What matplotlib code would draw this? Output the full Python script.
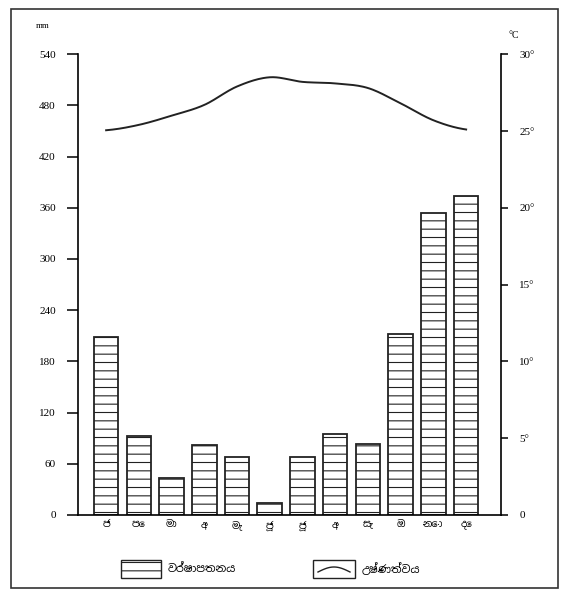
import numpy as np
import matplotlib
matplotlib.use("Agg")
import matplotlib.pyplot as plt
from matplotlib.patches import Rectangle

plt.rcParams['hatch.linewidth'] = 0.8

months = ["ජ", "පෙ", "මා", "අ", "මැ", "ජූ", "ජූ", "අ", "සැ", "ඔ", "නො", "දෙ"]
rainfall = [208, 93, 43, 82, 68, 14, 68, 95, 83, 212, 354, 374]
temperature = [25.05, 25.4, 26.0, 26.7, 27.9, 28.5, 28.2, 28.1, 27.8, 26.8, 25.7, 25.1]
rain_ticks = [0, 60, 120, 180, 240, 300, 360, 420, 480, 540]
temp_ticks = [0, 5, 10, 15, 20, 25, 30]
temp_labels = ["0", "5°", "10°", "15°", "20°", "25°", "30°"]
legend_labels = ["වර්ෂාපතනය", "උෂ්ණත්වය"]

sinhala_fonts = ['Noto Sans Sinhala', 'Noto Serif Sinhala', 'Iskoola Pota', 'Liberation Serif', 'DejaVu Sans']
num_font = ['Liberation Serif', 'DejaVu Serif']

fig = plt.figure(figsize=(5.65, 5.96), dpi=100)
fig.patches.append(Rectangle((0.02, 0.013), 0.968, 0.972, transform=fig.transFigure,
                             fill=False, edgecolor='#333333', linewidth=1.2))

ax = fig.add_axes([0.138, 0.136, 0.749, 0.773])
x = np.arange(len(months))
ax.bar(x, rainfall, width=0.75, facecolor='white', edgecolor='#222222',
       linewidth=1.3, hatch='--')
ax.set_ylim(0, 540)
ax.set_yticks(rain_ticks)
ax.set_yticklabels([str(t) for t in rain_ticks], fontfamily=num_font, fontsize=8)
ax.set_xticks(x)
ax.set_xticklabels(months, fontfamily=sinhala_fonts, fontsize=7)
ax.tick_params(axis='x', length=0, pad=4)
ax.tick_params(axis='y', length=8, width=1.1, pad=8)
for s in ['top', 'right']:
    ax.spines[s].set_visible(False)
ax.spines['left'].set_linewidth(1.2)
ax.spines['bottom'].set_linewidth(1.2)

ax2 = ax.twinx()
ax2.set_ylim(0, 30)
# smooth curve through monthly temperature (Catmull-Rom)
t = np.array(temperature)
xs, ys = [], []
P = np.concatenate([[t[0]], t, [t[-1]]])
X = np.concatenate([[x[0] - 1], x, [x[-1] + 1]]).astype(float)
for i in range(1, len(P) - 2):
    u = np.linspace(0, 1, 20, endpoint=False)
    for arr, out in ((P, ys), (X, xs)):
        p0, p1, p2, p3 = arr[i - 1], arr[i], arr[i + 1], arr[i + 2]
        out.extend(0.5 * ((2 * p1) + (-p0 + p2) * u + (2 * p0 - 5 * p1 + 4 * p2 - p3) * u ** 2
                          + (-p0 + 3 * p1 - 3 * p2 + p3) * u ** 3))
xs.append(x[-1]); ys.append(t[-1])
ax2.plot(xs, ys, color='#222222', linewidth=1.4)
ax2.set_yticks(temp_ticks)
ax2.set_yticklabels(temp_labels, fontfamily=num_font, fontsize=8)
ax2.tick_params(axis='y', length=5, width=1.1, pad=8)
for s in ['top', 'left', 'bottom']:
    ax2.spines[s].set_visible(False)
ax2.spines['right'].set_linewidth(1.2)
ax.set_xlim(-0.86, 12.07)
ax2.set_xlim(-0.86, 12.07)

fig.text(0.075, 0.957, "mm", fontsize=6.5, fontfamily=num_font, ha='center', va='center')
fig.text(0.91, 0.94, "°C", fontsize=7, fontfamily=num_font, ha='center', va='center')

# legend
lg = fig.add_axes([0, 0, 1, 1], facecolor='none')
lg.set_xlim(0, 565); lg.set_ylim(596, 0); lg.axis('off')
lg.add_patch(Rectangle((121, 560), 40, 18, facecolor='white', edgecolor='#222222',
                       linewidth=1.0, hatch='--'))
lg.text(168, 570, legend_labels[0], fontsize=8, fontfamily=sinhala_fonts, va='center')
lg.add_patch(Rectangle((313, 560), 42, 18, facecolor='white', edgecolor='#222222', linewidth=1.0))
cx = np.linspace(318, 350, 30)
lg.plot(cx, 572 - 5 * np.sin(np.pi * (cx - 318) / 32), color='#222222', linewidth=1.0)
lg.text(362, 570, legend_labels[1], fontsize=8, fontfamily=sinhala_fonts, va='center')

fig.savefig("out.png", dpi=100)
